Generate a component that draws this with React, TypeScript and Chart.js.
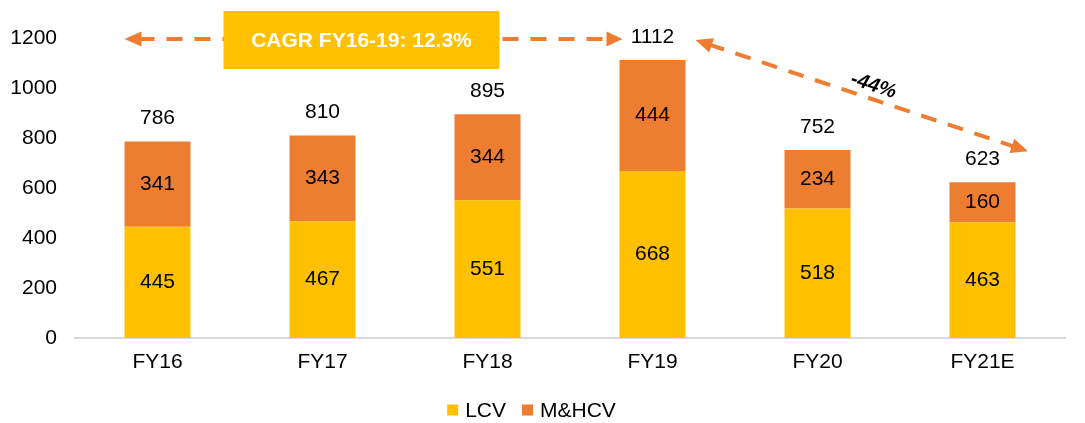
import React, { useEffect, useRef } from "react";
import { Chart, registerables } from "chart.js";

Chart.register(...registerables);

const categories = ["FY16", "FY17", "FY18", "FY19", "FY20", "FY21E"];
const lcv = [445, 467, 551, 668, 518, 463];
const mhcv = [341, 343, 344, 444, 234, 160];
const yTicks = [0, 200, 400, 600, 800, 1000, 1200];
const cagrLabel = "CAGR FY16-19: 12.3%";
const declineLabel = "-44%";

const ORANGE = "#ED7D31";
const YELLOW = "#FFC000";
const FONT = "'Liberation Sans', Arial, sans-serif";
const FS = 21;

function arrowHead(ctx: CanvasRenderingContext2D, tipX: number, tipY: number, ang: number, len: number, half: number) {
  const bx = tipX - Math.cos(ang) * len;
  const by = tipY - Math.sin(ang) * len;
  const nx = -Math.sin(ang);
  const ny = Math.cos(ang);
  ctx.beginPath();
  ctx.moveTo(tipX, tipY);
  ctx.lineTo(bx + nx * half, by + ny * half);
  ctx.lineTo(bx - nx * half, by - ny * half);
  ctx.closePath();
  ctx.fill();
}

const labelPlugin = {
  id: "labelsAndAnnotations",
  afterDatasetsDraw(chart: any) {
    const ctx: CanvasRenderingContext2D = chart.ctx;
    const xs = chart.scales.x;
    const ys = chart.scales.y;
    ctx.save();
    ctx.fillStyle = "#000";
    ctx.font = `${FS}px ${FONT}`;
    ctx.textAlign = "center";
    ctx.textBaseline = "middle";
    const m0 = chart.getDatasetMeta(0);
    const m1 = chart.getDatasetMeta(1);
    categories.forEach((_, i) => {
      const b0 = m0.data[i];
      const b1 = m1.data[i];
      ctx.fillText(String(lcv[i]), b0.x, (b0.y + b0.base) / 2);
      ctx.fillText(String(mhcv[i]), b1.x, (b1.y + b1.base) / 2);
      const tot = lcv[i] + mhcv[i];
      ctx.fillText(String(tot), b1.x, ys.getPixelForValue(tot) - 23);
    });

    // CAGR arrow
    const bw = m0.data[0].width;
    const yH = ys.getPixelForValue(1200) + 1;
    const leftTip = xs.getPixelForValue(0) - bw / 2;
    const rightTip = xs.getPixelForValue(3) - 30;
    ctx.strokeStyle = ORANGE;
    ctx.fillStyle = ORANGE;
    ctx.lineWidth = 4;
    ctx.setLineDash([16, 12]);
    ctx.beginPath();
    ctx.moveTo(leftTip + 14, yH);
    ctx.lineTo(rightTip - 14, yH);
    ctx.stroke();
    ctx.setLineDash([]);
    arrowHead(ctx, leftTip, yH, Math.PI, 17, 7.5);
    arrowHead(ctx, rightTip, yH, 0, 16, 7.5);

    // CAGR box
    const boxL = xs.getPixelForValue(0) + 66;
    const boxT = ys.getPixelForValue(1200) - 27;
    ctx.fillStyle = YELLOW;
    ctx.fillRect(boxL, boxT, 276, 58);
    ctx.fillStyle = "#fff";
    ctx.font = `bold ${FS}px ${FONT}`;
    ctx.fillText(cagrLabel, boxL + 138, boxT + 30);

    // decline arrow
    const sx = xs.getPixelForValue(3) + 43;
    const sy = ys.getPixelForValue(1112) - 20;
    const ex = xs.getPixelForValue(5) + 45.5;
    const ey = ys.getPixelForValue(623) - 31;
    const ang = Math.atan2(ey - sy, ex - sx);
    const c = Math.cos(ang), s = Math.sin(ang);
    ctx.strokeStyle = ORANGE;
    ctx.fillStyle = ORANGE;
    ctx.lineWidth = 4;
    ctx.setLineDash([16, 12]);
    ctx.beginPath();
    ctx.moveTo(sx + c * 14, sy + s * 14);
    ctx.lineTo(ex - c * 14, ey - s * 14);
    ctx.stroke();
    ctx.setLineDash([]);
    arrowHead(ctx, sx, sy, ang + Math.PI, 17, 7.5);
    arrowHead(ctx, ex, ey, ang, 17, 7.5);

    // -44% label
    ctx.save();
    const mx = (sx + ex) / 2 + c * 8 + s * 13;
    const my = (sy + ey) / 2 + s * 8 - c * 13;
    ctx.translate(mx, my);
    ctx.rotate(ang);
    ctx.fillStyle = "#000";
    ctx.font = `italic bold 20px ${FONT}`;
    ctx.fillText(declineLabel, 0, 0);
    ctx.restore();

    // legend
    ctx.font = `${FS}px ${FONT}`;
    ctx.textAlign = "left";
    const box = 11, gap = 7, spacing = 16;
    const items = chart.data.datasets.map((d: any) => ({
      text: d.label,
      color: d.backgroundColor,
      w: box + gap + ctx.measureText(d.label).width,
    }));
    const total = items.reduce((a: number, it: any) => a + it.w, 0) + spacing * (items.length - 1);
    let lx = chart.width / 2 - 11 - total / 2;
    const ly = 410;
    items.forEach((it: any) => {
      ctx.fillStyle = it.color;
      ctx.fillRect(lx, ly - box / 2, box, box);
      ctx.fillStyle = "#000";
      ctx.fillText(it.text, lx + box + gap, ly + 1);
      lx += it.w + spacing;
    });
    ctx.restore();
  },
};

export default function App() {
  const ref = useRef<HTMLCanvasElement | null>(null);
  useEffect(() => {
    if (!ref.current) return;
    const chart = new Chart(ref.current, {
      type: "bar",
      data: {
        labels: categories,
        datasets: [
          { label: "LCV", data: lcv, backgroundColor: YELLOW, barPercentage: 0.4, categoryPercentage: 1 },
          { label: "M&HCV", data: mhcv, backgroundColor: ORANGE, barPercentage: 0.4, categoryPercentage: 1 },
        ],
      },
      options: {
        animation: false,
        responsive: true,
        maintainAspectRatio: false,
        layout: { padding: { top: 38, right: 20, left: 0, bottom: 30 } },
        plugins: {
          tooltip: { enabled: false },
          legend: { display: false },
        },
        scales: {
          x: {
            stacked: true,
            grid: { display: false, drawTicks: false },
            border: { display: true, color: "#D9D9D9", width: 2 },
            ticks: { color: "#000", font: { family: FONT, size: FS }, padding: 12 },
            afterFit: (axis: any) => {
              axis.height = 55;
            },
          },
          y: {
            stacked: true,
            min: 0,
            max: 1200,
            afterBuildTicks: (axis: any) => {
              axis.ticks = yTicks.map((v) => ({ value: v }));
            },
            grid: { display: false, drawTicks: false },
            border: { display: false },
            ticks: {
              color: "#000",
              font: { family: FONT, size: FS },
              padding: 18,
              callback: (v: any) => String(v),
            },
            afterFit: (axis: any) => {
              axis.width = 75;
            },
          },
        },
      },
      plugins: [labelPlugin],
    });
    return () => chart.destroy();
  }, []);
  return (
    <div style={{ position: "absolute", left: 0, top: 0, width: 1085, height: 423, background: "#fff" }}>
      <canvas ref={ref} />
    </div>
  );
}
